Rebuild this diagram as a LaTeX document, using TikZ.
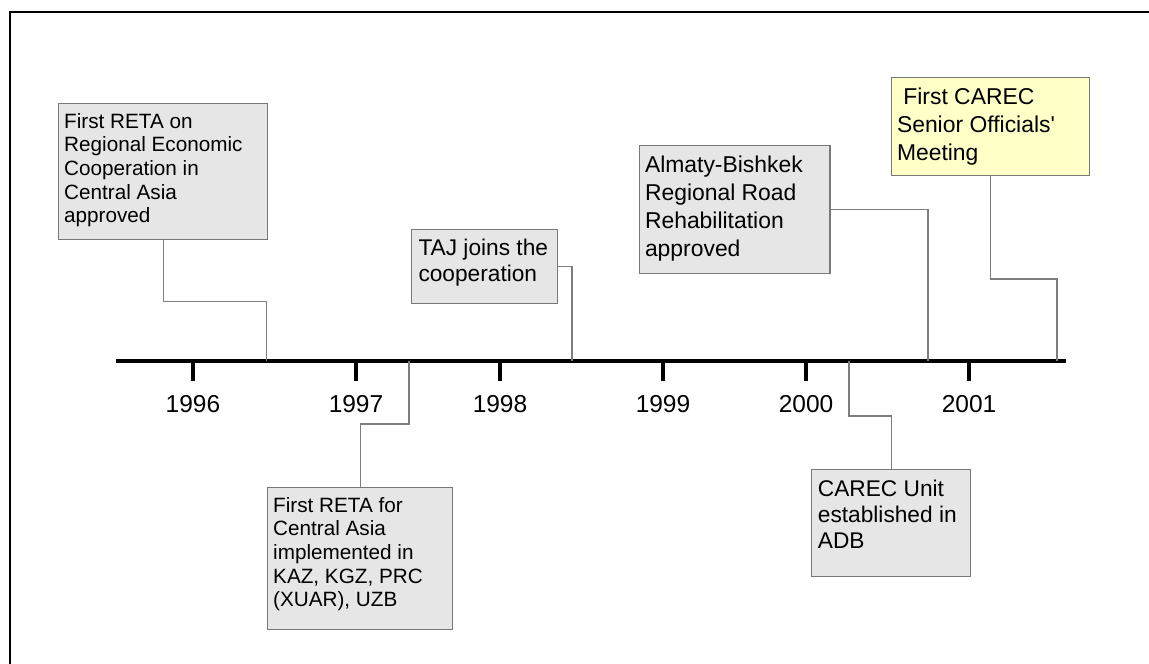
\documentclass[tikz,border=0pt]{standalone}
\usepackage{fontspec}
\setmainfont{Liberation Sans}[Ligatures=TeXOff]
\definecolor{boxgray}{RGB}{230,230,230}
\definecolor{boxline}{RGB}{120,120,120}
\definecolor{linkgray}{RGB}{125,125,125}
\definecolor{paleyellow}{RGB}{255,255,200}
\tikzset{
  frameline/.style={line width=2.2pt, black},
  axisline/.style={line width=4pt, black},
  tickmark/.style={line width=4pt, black},
  evbox/.style={draw=boxline, fill=boxgray, line width=1.4pt, inner sep=0pt, anchor=north west, rectangle},
  hlbox/.style={evbox, fill=paleyellow},
  link/.style={draw=linkgray, line width=1.3pt},
  evtxt/.style 2 args={inner sep=0pt, anchor=base west, font=\fontsize{#1}{#2}\selectfont},
  yeartxt/.style={inner sep=0pt, anchor=base, font=\fontsize{24.5}{28}\selectfont},
}
\begin{document}
\begin{tikzpicture}[x=1pt, y=-1pt]
\useasboundingbox (0,0) rectangle (1149,664);
% frame
\draw[frameline] (10,664) -- (10,12) -- (1149,12);
% axis
\coordinate (axL) at (116,361);
\coordinate (axR) at (1066,361);
\draw[axisline] (axL) -- (axR);
% ticks and years
\foreach \x/\yr in {193/1996, 356/1997, 500/1998, 663/1999, 806/2000, 969/2001}{
  \coordinate (tk\yr) at (\x,361);
  \draw[tickmark] (tk\yr) -- ++(0,20);
  \node[yeartxt] (y\yr) at (\x,412.7) {\yr};
}
% event end points on the axis
\coordinate (e1) at (266.7,361);
\coordinate (e2) at (572,361);
\coordinate (e3) at (928,361);
\coordinate (e4) at (1057,361);
\coordinate (e5) at (409,361);
\coordinate (e6) at (849,361);
% boxes
\node[evbox, minimum width=209pt, minimum height=136pt] (b1) at (58,103) {};
\node[evtxt={20.7}{23.7}] (t1) at (64,128) {\parbox[t]{205pt}{\raggedright First RETA on\\Regional Economic\\Cooperation in\\Central Asia\\approved}};

\node[evbox, minimum width=146pt, minimum height=74pt] (b2) at (411,229) {};
\node[evtxt={22.7}{26.7}] (t2) at (418.3,255) {\parbox[t]{140pt}{\raggedright TAJ joins the\\cooperation}};

\node[evbox, minimum width=190.8pt, minimum height=128.4pt] (b3) at (638.5,144.6) {};
\node[evtxt={22.9}{28.1}] (t3) at (644.8,172.6) {\parbox[t]{185pt}{\raggedright Almaty-Bishkek\\Regional Road\\Rehabilitation\\approved}};

\node[hlbox, minimum width=198.5pt, minimum height=98pt] (b4) at (890.5,77) {};
\node[evtxt={22.9}{28}] (t4) at (896.8,104.3) {\parbox[t]{192pt}{\raggedright\ First CAREC\\Senior Officials'\\Meeting}};

\node[evbox, minimum width=185pt, minimum height=142pt] (b5) at (267,487) {};
\node[evtxt={20.7}{23.7}] (t5) at (273,512) {\parbox[t]{180pt}{\raggedright First RETA for\\Central Asia\\implemented in\\KAZ, KGZ, PRC\\(XUAR), UZB}};

\node[evbox, minimum width=159pt, minimum height=107pt] (b6) at (811,469) {};
\node[evtxt={22.7}{26.2}] (t6) at (817.7,496) {\parbox[t]{155pt}{\raggedright CAREC Unit\\established in\\ADB}};

% connectors
\draw[link] (b1.south) -- ++(0,61.3) -| (e1);
\draw[link] (b2.east) -| (e2);
\draw[link] (b3.east) -| (e3);
\draw[link] (b4.south) -- ++(0,102.6) -| (e4);
\draw[link] (b5.north) -- ++(0,-63) -| (e5);
\draw[link] (b6.north) -- ++(0,-53) -| (e6);
\end{tikzpicture}
\end{document}
